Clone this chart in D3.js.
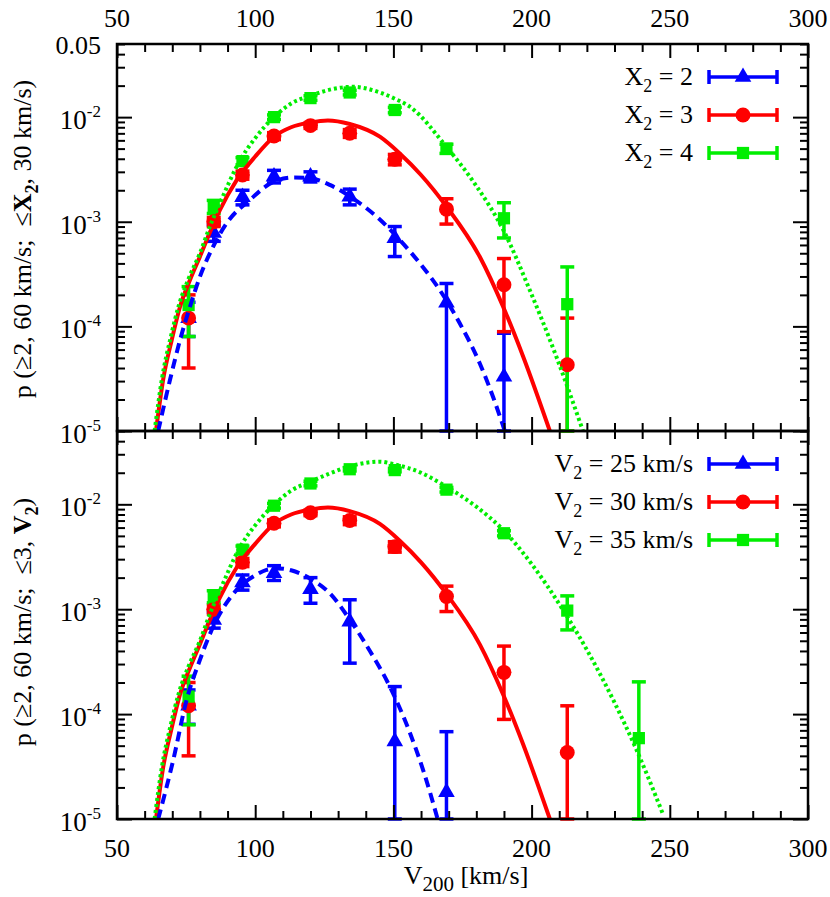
<!DOCTYPE html>
<html>
<head>
<meta charset="utf-8">
<script src="https://cdn.jsdelivr.net/npm/d3@7"></script>
<style>
body { margin: 0; background: #fff; }
svg text { font-family: "Liberation Serif", "Tinos", "Nimbus Roman", "Nimbus Roman No9 L", "FreeSerif", "Noto Serif", "DejaVu Serif", "Times New Roman", Times, serif; fill: #000; }
</style>
</head>
<body>
<svg id="chart" width="830" height="897"></svg>
<script>
// bin centres (V200, km/s)
var vBins = [75.9, 85.0, 95.4, 106.8, 120.0, 134.2, 150.5, 169.2, 190.0, 212.9, 238.8];

// [p, lower, upper] per bin; a lower value under 1e-5 runs off the axis
var x2Eq2 = [[1.2e-4, 8e-5, 1.7e-4], [7.8e-4, 6.5e-4, 9.3e-4], [1.72e-3, 1.45e-3, 2.0e-3],
  [2.7e-3, 2.35e-3, 3.1e-3], [2.7e-3, 2.4e-3, 3.0e-3], [1.74e-3, 1.45e-3, 2.05e-3],
  [6.95e-4, 4.65e-4, 9.0e-4], [1.68e-4, 1e-6, 2.57e-4], [3.3e-5, 1e-6, 8.6e-5], null, null];
// X2 = 3 is the same run as V2 = 30 km/s
var x2Eq3 = [[1.2e-4, 4.0e-5, 2.0e-4], [1.0e-3, 9.0e-4, 1.1e-3], [2.8e-3, 2.55e-3, 3.05e-3],
  [6.6e-3, 6.1e-3, 7.1e-3], [8.3e-3, 7.8e-3, 8.8e-3], [7.0e-3, 6.4e-3, 7.6e-3],
  [3.95e-3, 3.5e-3, 4.4e-3], [1.32e-3, 9.5e-4, 1.66e-3], [2.5e-4, 8.9e-5, 4.45e-4],
  [4.3e-5, 1e-6, 1.2e-4], null];
var x2Eq4 = [[1.6e-4, 8e-5, 2.4e-4], [1.4e-3, 1.2e-3, 1.6e-3], [3.8e-3, 3.5e-3, 4.1e-3],
  [1.0e-2, 9.5e-3, 1.05e-2], [1.52e-2, 1.45e-2, 1.6e-2], [1.72e-2, 1.63e-2, 1.8e-2],
  [1.17e-2, 1.1e-2, 1.24e-2], [5.0e-3, 4.5e-3, 5.5e-3], [1.08e-3, 7.0e-4, 1.52e-3],
  [1.63e-4, 1e-6, 3.7e-4], null];
var v2Eq25 = [[1.2e-4, 8e-5, 1.7e-4], [7.9e-4, 6.6e-4, 9.4e-4], [1.8e-3, 1.52e-3, 2.12e-3],
  [2.2e-3, 1.88e-3, 2.6e-3], [1.55e-3, 1.14e-3, 2.0e-3], [7.6e-4, 3.06e-4, 1.23e-3],
  [5.5e-5, 1e-6, 1.83e-4], [1.8e-5, 1e-6, 6.8e-5], null, null, null];
var v2Eq35 = [[1.47e-4, 7.9e-5, 2.3e-4], [1.32e-3, 1.15e-3, 1.5e-3], [3.7e-3, 3.4e-3, 4.0e-3],
  [9.7e-3, 9.2e-3, 1.02e-2], [1.58e-2, 1.5e-2, 1.66e-2], [2.16e-2, 2.08e-2, 2.24e-2],
  [2.12e-2, 2.04e-2, 2.2e-2], [1.38e-2, 1.31e-2, 1.45e-2], [5.3e-3, 5.0e-3, 5.6e-3],
  [9.7e-4, 6.35e-4, 1.34e-3], [5.9e-5, 1e-6, 2.03e-4]];

// fitted curves, [V200, p]
var fitX2Eq2 = [[64.9, 1e-5], [69.2, 3.1e-5], [72.8, 7.4e-5], [76.4, 1.54e-4], [80, 2.98e-4],
  [84.8, 5.8e-4], [89.7, 9.7e-4], [98.1, 1.62e-3], [106.5, 2.4e-3], [114, 2.65e-3],
  [120, 2.6e-3], [127, 2.25e-3], [134.2, 1.75e-3], [145.1, 1.05e-3], [152.3, 6.7e-4],
  [159.6, 4.0e-4], [166.8, 2.22e-4], [174, 1.07e-4], [181.3, 4.4e-5], [186.1, 2.1e-5], [190.3, 1e-5]];
var fitX2Eq3 = [[64.1, 1e-5], [66.7, 3.1e-5], [69.8, 7.4e-5], [72.8, 1.54e-4], [76.4, 2.77e-4],
  [80, 4.64e-4], [83.6, 7.9e-4], [87.2, 1.29e-3], [93.3, 2.5e-3], [100, 4.2e-3], [106.8, 6.5e-3],
  [113, 8.0e-3], [120, 8.9e-3], [126.3, 9.3e-3], [134.2, 8.6e-3], [145.1, 6.5e-3], [152.3, 4.5e-3],
  [160, 2.8e-3], [169.2, 1.4e-3], [181.3, 4.6e-4], [189.7, 1.54e-4], [197, 5.1e-5], [206.6, 1e-5]];
var fitX2Eq4 = [[63.6, 1e-5], [66.3, 3.2e-5], [69.4, 7.8e-5], [72.4, 1.6e-4], [76, 2.9e-4],
  [80, 5.0e-4], [83.6, 9.0e-4], [87.2, 1.5e-3], [94.6, 3.9e-3], [100, 6.3e-3], [106.8, 1.0e-2],
  [113, 1.35e-2], [120, 1.6e-2], [127, 1.83e-2], [135.3, 1.95e-2], [145.1, 1.72e-2],
  [150.5, 1.5e-2], [155.9, 1.26e-2], [169.2, 5.2e-3], [180, 2.2e-3], [189.7, 8.4e-4],
  [199.4, 2.2e-4], [209, 5.1e-5], [218.6, 1e-5]];
var fitV2Eq25 = [[64.9, 1e-5], [70.4, 3.7e-5], [75.2, 1.37e-4], [80, 3.29e-4], [84.8, 6.8e-4],
  [93.3, 1.53e-3], [100, 2.1e-3], [104.1, 2.37e-3], [108, 2.45e-3], [113, 2.35e-3],
  [120, 1.95e-3], [127, 1.42e-3], [134.3, 7.9e-4], [141, 4.2e-4], [148.7, 1.83e-4],
  [156, 6.6e-5], [161, 2.8e-5], [166, 1e-5]];
var fitV2Eq35 = [[63.6, 1e-5], [66.3, 3.2e-5], [69.4, 7.8e-5], [72.4, 1.6e-4], [76, 2.9e-4],
  [80, 5.0e-4], [83.6, 9.0e-4], [87.2, 1.5e-3], [94.6, 3.95e-3], [100, 6.3e-3], [106.8, 9.9e-3],
  [113, 1.35e-2], [120, 1.64e-2], [127, 1.97e-2], [134.2, 2.3e-2], [145.1, 2.55e-2],
  [150.5, 2.4e-2], [160, 2.0e-2], [169.2, 1.47e-2], [180, 9.5e-3], [189.7, 5.7e-3],
  [200, 2.7e-3], [211.4, 9.8e-4], [220, 4.1e-4], [229.5, 1.37e-4], [237.9, 4.6e-5], [247.6, 1.1e-5]];

var xTicks = [50, 100, 150, 200, 250, 300];
var yExps = [-2, -3, -4, -5];
var x2Keys = ["2", "3", "4"];
var v2Keys = ["25", "30", "35"];

var svg = d3.select("#chart"),
  x = d3.scaleLinear().domain([50, 300]).range([117, 808]),
  left = 117, right = 808,
  colors = ["#0000ff", "#ff0000", "#00ee00"],
  shapes = [d3.symbolTriangle, d3.symbolCircle, d3.symbolSquare],
  shapeSize = [120, 175, 150],
  dashes = ["10,6", null, "3,3"];

var panels = [
  {top: 44, bottom: 431, data: [x2Eq2, x2Eq3, x2Eq4], fits: [fitX2Eq2, fitX2Eq3, fitX2Eq4],
    keyName: "X", keys: x2Keys, unit: "", keyY: [77, 115, 153],
    title: ["p (\u22652, 60 km/s;\u00a0 \u2264", "X", "2", ", 30 km/s)"], titleY: 239},
  {top: 431, bottom: 819, data: [v2Eq25, x2Eq3, v2Eq35], fits: [fitV2Eq25, fitX2Eq3, fitV2Eq35],
    keyName: "V", keys: v2Keys, unit: " km/s", keyY: [464, 502, 540],
    title: ["p (\u22652, 60 km/s;\u00a0 \u2264", "3, ", "V", "2", ")"], titleY: 622}
];

var minorX = d3.range(50, 301, 10).filter(function (v) { return v % 50 !== 0; });
var majorY = [1e-5, 1e-4, 1e-3, 1e-2];
var minorY = [];
[-5, -4, -3, -2].forEach(function (e) {
  d3.range(2, 10).forEach(function (m) {
    var v = m * Math.pow(10, e);
    if (v <= 0.05 + 1e-9) minorY.push(v);
  });
});

panels.forEach(function (pn, k) {
  var y = d3.scaleLog().domain([1e-5, 0.05]).range([pn.bottom, pn.top]).clamp(true);

  svg.append("clipPath").attr("id", "clip" + k).append("rect")
    .attr("x", left).attr("y", pn.top).attr("width", right - left).attr("height", pn.bottom - pn.top);

  // error bars
  pn.data.forEach(function (series, s) {
    var g = svg.append("g").attr("stroke", colors[s]).attr("stroke-width", 3.5);
    series.forEach(function (d, i) {
      if (!d) return;
      var xv = x(vBins[i]), y1 = y(d[1]), y2 = y(d[2]);
      g.append("line").attr("x1", xv).attr("x2", xv).attr("y1", y1).attr("y2", y2);
      [y1, y2].forEach(function (yy) {
        g.append("line").attr("x1", xv - 7).attr("x2", xv + 7).attr("y1", yy).attr("y2", yy);
      });
    });
  });

  // markers
  pn.data.forEach(function (series, s) {
    svg.append("g").selectAll("path")
      .data(series.map(function (d, i) { return d ? [vBins[i], d[0]] : null; })
        .filter(function (d) { return d; }))
      .enter().append("path")
      .attr("d", d3.symbol().type(shapes[s]).size(shapeSize[s]))
      .attr("transform", function (d) { return "translate(" + x(d[0]) + "," + y(d[1]) + ")"; })
      .attr("fill", colors[s]);
  });

  // fitted curves: red first, blue and green on top
  var line = d3.line()
    .x(function (d) { return x(d[0]); })
    .y(function (d) { return y(d[1]); })
    .curve(d3.curveMonotoneX);
  [1, 0, 2].forEach(function (s) {
    svg.append("path")
      .datum(pn.fits[s])
      .attr("clip-path", "url(#clip" + k + ")")
      .attr("d", line)
      .attr("fill", "none")
      .attr("stroke", colors[s])
      .attr("stroke-width", 4)
      .attr("stroke-dasharray", dashes[s]);
  });

  // ticks, all pointing inwards
  var axes = svg.append("g");
  function put(axis, tx, ty) {
    var a = axes.append("g").attr("transform", "translate(" + tx + "," + ty + ")").call(axis);
    a.select(".domain").remove();
    a.selectAll("line").attr("stroke", "#000").attr("stroke-width", 2);
  }
  put(d3.axisBottom(x).tickValues(xTicks).tickSize(14).tickFormat(""), 0, pn.top);
  put(d3.axisBottom(x).tickValues(minorX).tickSize(8).tickFormat(""), 0, pn.top);
  put(d3.axisTop(x).tickValues(xTicks).tickSize(14).tickFormat(""), 0, pn.bottom);
  put(d3.axisTop(x).tickValues(minorX).tickSize(8).tickFormat(""), 0, pn.bottom);
  put(d3.axisRight(y).tickValues(majorY).tickSize(15).tickFormat(""), left, 0);
  put(d3.axisRight(y).tickValues(minorY).tickSize(8).tickFormat(""), left, 0);
  put(d3.axisLeft(y).tickValues(majorY).tickSize(15).tickFormat(""), right, 0);
  put(d3.axisLeft(y).tickValues(minorY).tickSize(8).tickFormat(""), right, 0);

  svg.append("rect")
    .attr("x", left).attr("y", pn.top)
    .attr("width", right - left).attr("height", pn.bottom - pn.top)
    .attr("fill", "none").attr("stroke", "#000").attr("stroke-width", 2.5);

  // y tick labels
  yExps.forEach(function (e) {
    var t = svg.append("text")
      .attr("x", 101).attr("y", y(Math.pow(10, e)) + 12)
      .attr("text-anchor", "end").attr("font-size", 27);
    t.append("tspan").text("10");
    t.append("tspan").attr("dy", -12).attr("font-size", 17).text("-" + Math.abs(e));
  });
  if (k === 0) {
    svg.append("text").attr("x", 101).attr("y", y(0.05) + 10)
      .attr("text-anchor", "end").attr("font-size", 26).text("0.05");
  }

  // x tick labels: above the top panel, below the bottom panel
  xTicks.forEach(function (v) {
    svg.append("text")
      .attr("x", x(v)).attr("y", k === 0 ? pn.top - 17 : pn.bottom + 38)
      .attr("text-anchor", "middle").attr("font-size", 26).text(v);
  });

  // legend
  pn.keys.forEach(function (v, s) {
    var ky = pn.keyY[s];
    var t = svg.append("text")
      .attr("x", 693).attr("y", ky + 8)
      .attr("text-anchor", "end").attr("font-size", 26);
    t.append("tspan").text(pn.keyName);
    t.append("tspan").attr("dy", 7).attr("font-size", 18).text("2");
    t.append("tspan").attr("dy", -7).text(" = " + v + pn.unit);

    var g = svg.append("g").attr("stroke", colors[s]).attr("stroke-width", 3.5);
    g.append("line").attr("x1", 709).attr("x2", 777).attr("y1", ky).attr("y2", ky);
    [709, 777].forEach(function (xx) {
      g.append("line").attr("x1", xx).attr("x2", xx).attr("y1", ky - 7).attr("y2", ky + 7);
    });
    svg.append("path")
      .attr("d", d3.symbol().type(shapes[s]).size(shapeSize[s]))
      .attr("transform", "translate(743," + ky + ")")
      .attr("fill", colors[s]);
  });

  // y axis title
  var tt = svg.append("text")
    .attr("transform", "translate(31," + pn.titleY + ") rotate(-90)")
    .attr("text-anchor", "middle").attr("font-size", 26);
  if (k === 0) {
    tt.append("tspan").text(pn.title[0]);
    tt.append("tspan").attr("font-weight", "bold").text(pn.title[1]);
    tt.append("tspan").attr("font-weight", "bold").attr("dy", 7).attr("font-size", 18).text(pn.title[2]);
    tt.append("tspan").attr("dy", -7).text(pn.title[3]);
  } else {
    tt.append("tspan").text(pn.title[0] + pn.title[1]);
    tt.append("tspan").attr("font-weight", "bold").text(pn.title[2]);
    tt.append("tspan").attr("font-weight", "bold").attr("dy", 7).attr("font-size", 18).text(pn.title[3]);
    tt.append("tspan").attr("dy", -7).text(pn.title[4]);
  }
});

// x axis title
var xt = svg.append("text")
  .attr("x", 466).attr("y", 884)
  .attr("text-anchor", "middle").attr("font-size", 26);
xt.append("tspan").text("V");
xt.append("tspan").attr("dy", 7).attr("font-size", 21).text("200");
xt.append("tspan").attr("dy", -7).text(" [km/s]");
</script>
</body>
</html>
